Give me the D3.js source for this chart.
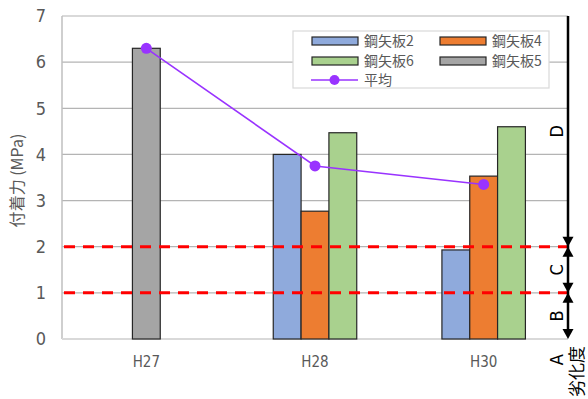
<!DOCTYPE html>
<html>
<head>
<meta charset="utf-8">
<script src="https://cdn.jsdelivr.net/npm/d3@7"></script>
<style>
  html, body { margin: 0; padding: 0; background: #fff; }
  svg { display: block; }
  .num { font-family: "Liberation Sans Narrow", "DejaVu Sans Condensed", "Roboto", sans-serif; }
  .jp { font-family: "Noto Sans CJK JP", sans-serif; }
</style>
</head>
<body>
<svg id="chart" width="588" height="399"></svg>
<script>
// Survey years (categories)
const categories = ["H27", "H28", "H30"];

// Bond strength (MPa) per sheet pile, null where not measured
const seriesNames = ["鋼矢板2", "鋼矢板4", "鋼矢板6", "鋼矢板5"];
const pile2 = [null, 4.0, 1.93];
const pile4 = [null, 2.77, 3.53];
const pile6 = [null, 4.47, 4.6];
const pile5 = [6.3, null, null];
const seriesValues = [pile2, pile4, pile6, pile5];
const seriesColors = ["#8FAADC", "#ED7D31", "#A9D18E", "#A5A5A5"];

// Mean bond strength per year
const averageName = "平均";
const averageValues = [6.3, 3.75, 3.35];

// Y axis ticks and deterioration thresholds
const yTicks = [0, 1, 2, 3, 4, 5, 6, 7];
const thresholds = [1, 2];

// Deterioration grades with their value ranges
const gradeNames = ["A", "B", "C", "D"];
const gradeLow = [-0.9, 0, 1, 2];
const gradeHigh = [0, 1, 2, 7];

const svg = d3.select("#chart");
const plot = { left: 62, right: 568, top: 16, bottom: 339 };

const x = d3.scaleBand().domain(categories).range([plot.left, plot.right]).padding(0);
const y = d3.scaleLinear().domain([0, 7]).range([plot.bottom, plot.top]);
const barW = x.bandwidth() * 0.165;

// Horizontal gridlines
svg.append("g").selectAll("line").data(yTicks.filter(t => t > 0)).join("line")
  .attr("x1", plot.left).attr("x2", plot.right)
  .attr("y1", d => y(d)).attr("y2", d => y(d))
  .attr("stroke", "#b4b4b4").attr("stroke-width", 1.2);

// Left spine and baseline
svg.append("line").attr("x1", plot.left).attr("x2", plot.left)
  .attr("y1", plot.top).attr("y2", plot.bottom)
  .attr("stroke", "#bfbfbf").attr("stroke-width", 1.5);
svg.append("line").attr("x1", plot.left).attr("x2", plot.right)
  .attr("y1", plot.bottom).attr("y2", plot.bottom)
  .attr("stroke", "#d9d9d9").attr("stroke-width", 2);

// Y axis labels
const yAxis = d3.axisLeft(y).tickValues(yTicks).tickSize(0).tickPadding(16).tickFormat(d3.format("d"));
const yg = svg.append("g").attr("transform", `translate(${plot.left},0)`).call(yAxis);
yg.select(".domain").remove();
yg.selectAll("text").attr("class", "num").attr("font-size", 18).attr("fill", "#595959");

// X axis labels
const xAxis = d3.axisBottom(x).tickSize(0).tickPadding(17);
const xg = svg.append("g").attr("transform", `translate(0,${plot.bottom})`).call(xAxis);
xg.select(".domain").remove();
xg.selectAll("text").attr("class", "num").attr("font-size", 15).attr("fill", "#595959");

// Y axis title
svg.append("text").attr("class", "jp")
  .attr("transform", `translate(23,${(plot.top + plot.bottom) / 2 + 3}) rotate(-90)`)
  .attr("text-anchor", "middle").attr("font-size", 16).attr("fill", "#595959")
  .text("付着力 (MPa)");

// Bars: within each year, the measured piles sit side by side around the centre
const barData = [];
categories.forEach((c, ci) => {
  const present = seriesNames.filter((s, si) => seriesValues[si][ci] != null);
  const cx = x(c) + x.bandwidth() / 2;
  const inner = d3.scaleBand().domain(present)
    .range([cx - present.length * barW / 2, cx + present.length * barW / 2]);
  present.forEach(s => {
    const si = seriesNames.indexOf(s);
    barData.push({ x: inner(s), w: inner.bandwidth(), v: seriesValues[si][ci], color: seriesColors[si] });
  });
});
svg.append("g").selectAll("rect").data(barData).join("rect")
  .attr("x", d => d.x).attr("width", d => d.w)
  .attr("y", d => y(d.v)).attr("height", d => y(0) - y(d.v))
  .attr("fill", d => d.color).attr("stroke", "#262626").attr("stroke-width", 1.2);

// Threshold lines
svg.append("g").selectAll("line").data(thresholds).join("line")
  .attr("x1", plot.left + 2).attr("x2", plot.right)
  .attr("y1", d => y(d)).attr("y2", d => y(d))
  .attr("stroke", "#FF0000").attr("stroke-width", 3).attr("stroke-dasharray", "11,8");

// Average line with markers
const avgPts = categories.map((c, i) => [x(c) + x.bandwidth() / 2, y(averageValues[i])]);
svg.append("path").attr("d", d3.line()(avgPts))
  .attr("fill", "none").attr("stroke", "#9933FF").attr("stroke-width", 1.6);
svg.append("g").selectAll("circle").data(avgPts).join("circle")
  .attr("cx", d => d[0]).attr("cy", d => d[1]).attr("r", 5.5).attr("fill", "#9933FF");

// Grade scale on the right: vertical line with arrowheads at each boundary
const ax = plot.right;
svg.append("line").attr("x1", ax).attr("x2", ax)
  .attr("y1", y(7)).attr("y2", y(0) - 4)
  .attr("stroke", "#000").attr("stroke-width", 2.5);
const arrowH = 10, arrowHalf = 5.5;
const arrows = [];
thresholds.forEach(t => { arrows.push({ v: t, dir: 1 }); arrows.push({ v: t, dir: -1 }); });
arrows.push({ v: 0, dir: 1 });
svg.append("g").selectAll("path").data(arrows).join("path")
  .attr("d", d => {
    const ty = y(d.v);
    const by = ty - d.dir * arrowH;
    return `M${ax},${ty}L${ax - arrowHalf},${by}L${ax + arrowHalf},${by}Z`;
  })
  .attr("fill", "#000");

// Grade letters
svg.append("g").selectAll("text").data(gradeNames).join("text")
  .attr("class", "num")
  .attr("transform", (d, i) => `translate(${ax - 5},${y((gradeLow[i] + gradeHigh[i]) / 2)}) rotate(-90)`)
  .attr("text-anchor", "middle").attr("font-size", 18).attr("fill", "#000")
  .text(d => d);
svg.append("text").attr("class", "jp")
  .attr("transform", `translate(${ax + 15},${y(-0.15)}) rotate(-90)`)
  .attr("text-anchor", "end").attr("font-size", 17).attr("fill", "#000")
  .text("劣化度");

// Legend
const lg = svg.append("g").attr("transform", "translate(293,31)");
lg.append("rect").attr("width", 256).attr("height", 57)
  .attr("fill", "#fff").attr("stroke", "#d9d9d9").attr("stroke-width", 1.2);
const legendOrder = [0, 1, 2, 3];
legendOrder.forEach((si, k) => {
  const col = k % 2, row = Math.floor(k / 2);
  const gx = 19 + col * 128, gy = 10 + row * 20;
  lg.append("rect").attr("x", gx).attr("y", gy - 4).attr("width", 46).attr("height", 8)
    .attr("fill", seriesColors[si]).attr("stroke", "#262626").attr("stroke-width", 1.2);
  lg.append("text").attr("class", "jp").attr("x", gx + 52).attr("y", gy + 5)
    .attr("font-size", 14).attr("fill", "#595959").text(seriesNames[si]);
});
lg.append("line").attr("x1", 18).attr("x2", 65).attr("y1", 49).attr("y2", 49)
  .attr("stroke", "#9933FF").attr("stroke-width", 1.6);
lg.append("circle").attr("cx", 41.5).attr("cy", 49).attr("r", 5).attr("fill", "#9933FF");
lg.append("text").attr("class", "jp").attr("x", 71).attr("y", 54)
  .attr("font-size", 14).attr("fill", "#595959").text(averageName);
</script>
</body>
</html>
